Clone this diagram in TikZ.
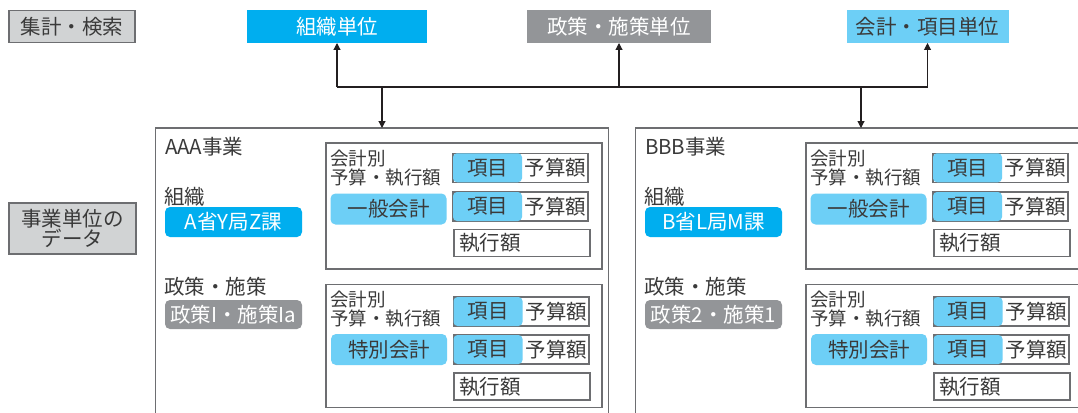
\documentclass[tikz,border=0pt]{standalone}
\usepackage{fontspec}
\setmainfont{Noto Sans CJK JP}
\usetikzlibrary{arrows.meta}
\definecolor{cyanA}{HTML}{00AEEF}
\definecolor{blueL}{HTML}{6DCFF6}
\definecolor{grayM}{HTML}{939598}
\definecolor{grayL}{HTML}{D1D3D4}
\definecolor{lineG}{HTML}{6D6E71}
\definecolor{txt}{HTML}{3A3A3A}
\definecolor{arrC}{HTML}{231F20}
\newcommand\fbig{\fontsize{20.5}{22}\selectfont}
\newcommand\fsmall{\fontsize{18.5}{19}\selectfont}
\tikzset{
  base/.style={inner sep=0pt, outer sep=0pt, font=\fbig, text=txt},
  lbl/.style={base, anchor=west},
  graybox/.style={base, fill=grayL, draw=lineG, line width=1.2pt},
  topcyan/.style={base, fill=cyanA, text=white, minimum height=33},
  topgray/.style={base, fill=grayM, text=white, minimum height=33},
  toplight/.style={base, fill=blueL, minimum height=33},
  outerbox/.style={base, draw=lineG, line width=1.3pt, anchor=north west},
  innerbox/.style={base, draw=lineG, line width=1.2pt, anchor=north west, minimum width=276},
  orgtag/.style={base, fill=cyanA, text=white, rounded corners=5pt, minimum width=137, minimum height=30},
  poltag/.style={base, fill=grayM, text=white, rounded corners=5pt, minimum width=137, minimum height=29},
  accttag/.style={base, fill=blueL, rounded corners=5pt, minimum width=116, minimum height=31},
  itemtag/.style={base, fill=blueL, rounded corners=4pt, minimum width=69, minimum height=29},
  budget/.style={base, fill=white, draw=lineG, line width=1.1pt, minimum width=135, minimum height=29, text width=131, inner xsep=2pt, align=right},
  exec/.style={base, fill=white, draw=lineG, line width=1.1pt, minimum width=136, minimum height=27, text width=126, inner xsep=5pt, align=left},
  small/.style={base, font=\fsmall, anchor=west, align=left},
  conn/.style={draw=arrC, line width=1.1pt},
  tip/.style={-{Triangle[width=7pt,length=7pt]}},
}
% #1 name, #2 xshift, #3 outer width, #4 title, #5 organisation, #6 policy
\newcommand\bizblock[6]{%
\begin{scope}[xshift=#2]
  \node[outerbox, minimum width=#3, minimum height=320] (#1) at (155.5,128) {};
  \node[lbl] (#1-title) at (165,147) {#4};
  \node[lbl] (#1-orgl) at (164,197) {組織};
  \node[orgtag] (#1-org) at (233.5,222) {#5};
  \node[lbl] (#1-poll) at (164,287) {政策・施策};
  \node[poltag] (#1-pol) at (233.5,314.5) {#6};
  % general account
  \node[innerbox, minimum height=126] (#1-g) at (326,143) {};
  \node[small] (#1-gl) at (330,168) {会計別\\予算・執行額};
  \node[accttag] (#1-ga) at (388.5,209) {一般会計};
  \node[budget] (#1-gb1) at (520.5,167.75) {予算額};
  \node[itemtag] (#1-gi1) at (487.5,167.75) {項目};
  \node[budget] (#1-gb2) at (520.5,206.5) {予算額};
  \node[itemtag] (#1-gi2) at (487.5,206.5) {項目};
  \node[exec] (#1-ge) at (522,243) {執行額};
  % special account
  \node[innerbox, minimum height=123] (#1-s) at (326,284.5) {};
  \node[small] (#1-sl) at (330,309.5) {会計別\\予算・執行額};
  \node[accttag] (#1-sa) at (389,349.5) {特別会計};
  \node[budget] (#1-sb1) at (521.5,311.5) {予算額};
  \node[itemtag] (#1-si1) at (488,311.5) {項目};
  \node[budget] (#1-sb2) at (521.5,349.5) {予算額};
  \node[itemtag] (#1-si2) at (488,349.5) {項目};
  \node[exec] (#1-se) at (522,386.5) {執行額};
\end{scope}}
\begin{document}
\begin{tikzpicture}[x=1pt,y=-1pt]
  \clip (0,0) rectangle (1078,412);
  \fill[white] (0,0) rectangle (1078,412);
  \node[graybox, minimum width=126, minimum height=32] (agg) at (72,26.5) {集計・検索};
  \node[topcyan, minimum width=180] (org) at (337,26.5) {組織単位};
  \node[topgray, minimum width=184] (pol) at (619,26.5) {政策・施策単位};
  \node[toplight, minimum width=162] (acc) at (927.5,26.5) {会計・項目単位};
  \node[graybox, minimum width=127, minimum height=51, align=center, font=\fontsize{20.5}{19.5}\selectfont] (data) at (72.5,228.5) {事業単位の\\データ};

  \bizblock{aaa}{0}{453}{AAA事業}{A省Y局Z課}{政策I・施策Ia}
  \bizblock{bbb}{480}{500}{BBB事業}{B省L局M課}{政策2・施策1}

  \coordinate (jL) at (337,87);
  \coordinate (jR) at (927.5,87);
  \coordinate (dA) at (382,87);
  \coordinate (dB) at (861,87);
  \draw[conn] (jL) -- (jR);
  \draw[conn, tip] (jL) -- (org.south);
  \draw[conn, tip] (pol.south |- jL) -- (pol.south);
  \draw[conn, tip] (jR) -- (acc.south);
  \draw[conn, tip] (dA) -- (dA |- aaa.north);
  \draw[conn, tip] (dB) -- (dB |- bbb.north);
\end{tikzpicture}
\end{document}
